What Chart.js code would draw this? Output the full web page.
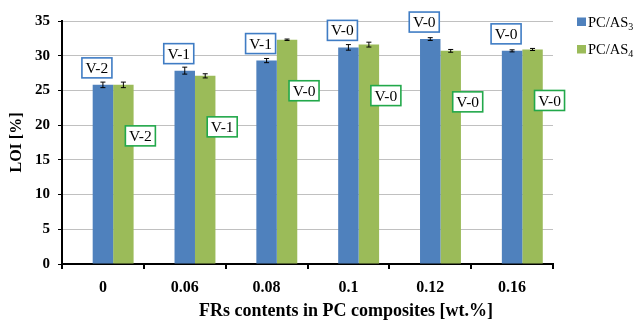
<!DOCTYPE html>
<html>
<head>
<meta charset="utf-8">
<script src="https://cdn.jsdelivr.net/npm/chart.js@4.4.1/dist/chart.umd.min.js"></script>
<style>
  html, body { margin: 0; padding: 0; background: #ffffff; }
  #wrap { width: 641px; height: 321px; }
</style>
</head>
<body>
<div id="wrap"><canvas id="c" width="641" height="321"></canvas></div>
<script>
// ---- data ----
const categories = ['0', '0.06', '0.08', '0.1', '0.12', '0.16'];
const seriesNames = ['PC/AS₃', 'PC/AS₄'];
const as3Values = [25.8, 27.85, 29.3, 31.2, 32.4, 30.7];
const as4Values = [25.8, 27.1, 32.3, 31.6, 30.7, 30.9];
const as3Errors = [0.4, 0.5, 0.3, 0.4, 0.2, 0.15];
const as4Errors = [0.4, 0.3, 0.1, 0.35, 0.2, 0.15];
const as3Ratings = ['V-2', 'V-1', 'V-1', 'V-0', 'V-0', 'V-0'];
const as4Ratings = ['V-2', 'V-1', 'V-0', 'V-0', 'V-0', 'V-0'];
const yMin = 0, yMax = 35, yStep = 5;
const xTitle = 'FRs contents in PC composites [wt.%]';
const yTitle = 'LOI [%]';

// ---- styles ----
const BLUE = '#4f81bd';
const GREEN = '#9bbb59';
const BOX_BLUE = '#3f7cc4';
const BOX_GREEN = '#22a84a';
const SERIF = '"Liberation Serif", "Times New Roman", serif';

const subMap = {'₀':'0','₁':'1','₂':'2','₃':'3','₄':'4','₅':'5','₆':'6','₇':'7','₈':'8','₉':'9'};

const annotPlugin = {
  id: 'annot',
  afterDatasetsDraw(chart) {
    const ctx = chart.ctx;
    const y = chart.scales.y;
    const real = chart.data.datasets.map((ds, di) => di).filter(di => chart.data.datasets[di].errors);
    // error bars
    real.forEach(di => {
      const ds = chart.data.datasets[di];
      const meta = chart.getDatasetMeta(di);
      meta.data.forEach((el, i) => {
        const v = ds.data[i];
        const e = ds.errors[i];
        const yt = y.getPixelForValue(v + e);
        const yb = y.getPixelForValue(v - e);
        ctx.save();
        ctx.strokeStyle = '#000';
        ctx.lineWidth = 1;
        ctx.beginPath();
        ctx.moveTo(el.x, yt); ctx.lineTo(el.x, yb);
        ctx.moveTo(el.x - 2.5, yt); ctx.lineTo(el.x + 2.5, yt);
        ctx.moveTo(el.x - 2.5, yb); ctx.lineTo(el.x + 2.5, yb);
        ctx.stroke();
        ctx.restore();
      });
    });
    // rating boxes
    const drawBox = (cx, top, text, color) => {
      const w = 30, h = 20;
      ctx.save();
      ctx.fillStyle = '#fff';
      ctx.fillRect(cx - w / 2, top, w, h);
      ctx.strokeStyle = color;
      ctx.lineWidth = 1.6;
      ctx.strokeRect(cx - w / 2, top, w, h);
      ctx.fillStyle = '#000';
      ctx.font = '15.5px ' + SERIF;
      ctx.textAlign = 'center';
      ctx.textBaseline = 'middle';
      ctx.fillText(text, cx, top + h / 2 + 1);
      ctx.restore();
    };
    const [d0, d1] = real;
    chart.getDatasetMeta(d0).data.forEach((el, i) => {
      drawBox(el.x - 6, el.y - 7 - 20, chart.data.datasets[d0].ratings[i], BOX_BLUE);
    });
    chart.getDatasetMeta(d1).data.forEach((el, i) => {
      drawBox(el.x + 17, el.y + 41, chart.data.datasets[d1].ratings[i], BOX_GREEN);
    });
  },
  afterDraw(chart) {
    const ctx = chart.ctx;
    // x-axis title (sits right of the plot centre in the original)
    ctx.save();
    ctx.fillStyle = '#000';
    ctx.font = 'bold 18px ' + SERIF;
    ctx.textAlign = 'center';
    ctx.textBaseline = 'alphabetic';
    ctx.fillText(xTitle, 346, 316);
    ctx.restore();
    // legend with subscripts
    const x0 = 577;
    const rows = [17.5, 45];
    chart.data.datasets.filter(ds => ds.errors).forEach((ds, k) => {
      const top = rows[k];
      ctx.save();
      ctx.fillStyle = ds.backgroundColor;
      ctx.fillRect(x0, top, 9, 8.5);
      let main = '', sub = '';
      for (const ch of ds.label) {
        if (subMap[ch]) sub += subMap[ch]; else main += ch;
      }
      ctx.fillStyle = '#000';
      ctx.textBaseline = 'alphabetic';
      ctx.textAlign = 'left';
      ctx.font = '14.5px ' + SERIF;
      ctx.fillText(main, x0 + 11, top + 9);
      const w = ctx.measureText(main).width;
      ctx.font = '10px ' + SERIF;
      ctx.fillText(sub, x0 + 11 + w, top + 12);
      ctx.restore();
    });
  }
};

new Chart(document.getElementById('c'), {
  type: 'bar',
  data: {
    labels: categories,
    datasets: [
      // empty spacer slot (the original groups are offset by one bar slot)
      { label: '', data: categories.map(() => null), backgroundColor: 'rgba(0,0,0,0)', borderWidth: 0 },
      { label: seriesNames[0], data: as3Values, errors: as3Errors, ratings: as3Ratings, backgroundColor: BLUE, borderWidth: 0 },
      { label: seriesNames[1], data: as4Values, errors: as4Errors, ratings: as4Ratings, backgroundColor: GREEN, borderWidth: 0 }
    ]
  },
  options: {
    responsive: false,
    animation: false,
    devicePixelRatio: 1,
    layout: { padding: { top: 21, right: 88, left: 0, bottom: 0 } },
    datasets: { bar: { categoryPercentage: 0.75, barPercentage: 1.0 } },
    plugins: { legend: { display: false }, tooltip: { enabled: false } },
    scales: {
      x: {
        offset: true,
        grid: { offset: true, drawOnChartArea: false, drawTicks: true, tickLength: 5, tickColor: '#000', lineWidth: 2 },
        border: { display: true, color: '#000', width: 2 },
        ticks: { color: '#000', padding: 9, font: { family: SERIF, size: 16, weight: 'bold' } },
        title: { display: false },
        afterFit(s) { s.height = 57; }
      },
      y: {
        min: yMin, max: yMax,
        ticks: { stepSize: yStep, color: '#000', padding: 8, font: { family: SERIF, size: 15, weight: 'bold' } },
        grid: { color: '#c0c0c0', lineWidth: 1, drawTicks: true, tickLength: 4, tickColor: '#000' },
        border: { display: true, color: '#000', width: 2 },
        title: { display: true, text: yTitle, color: '#000', padding: { top: 7, bottom: 0 },
                 font: { family: SERIF, size: 16, weight: 'bold' } },
        afterFit(s) { s.width = 62; }
      }
    }
  },
  plugins: [annotPlugin]
});
</script>
</body>
</html>
